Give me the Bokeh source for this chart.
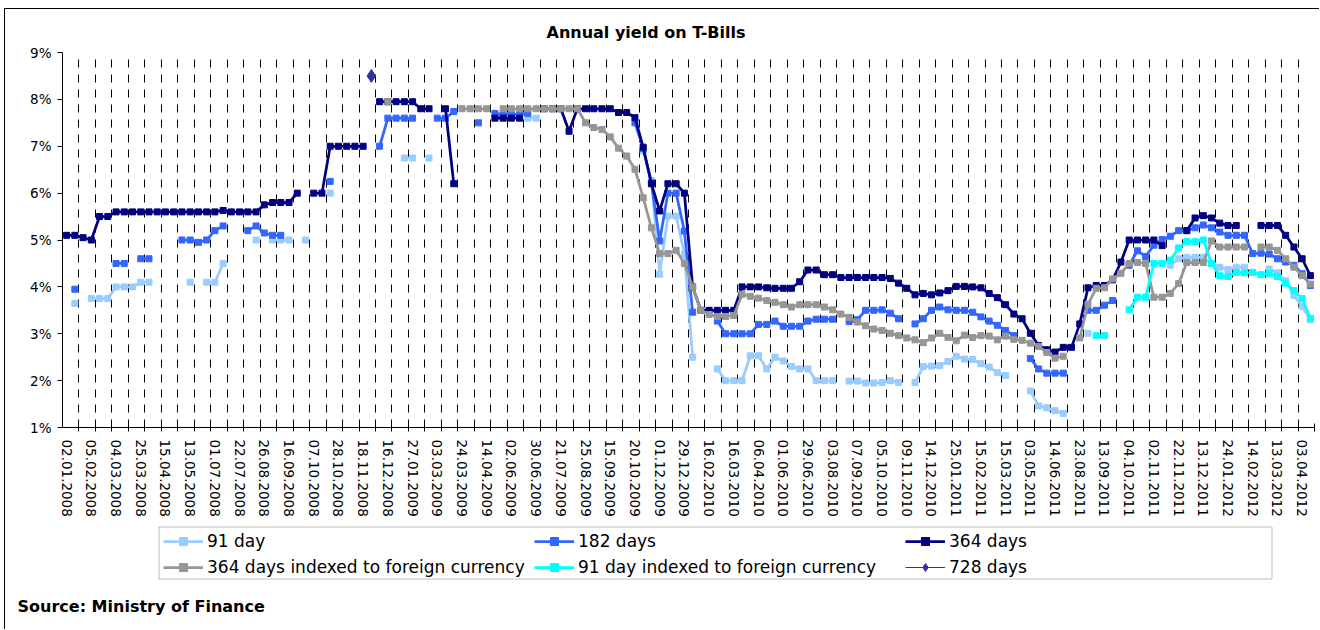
import math
from bokeh.plotting import figure
from bokeh.layouts import column
from bokeh.models import (Range1d, LinearAxis, FixedTicker, CustomJSTickFormatter,
                          Legend, LegendItem, Title, Label, ColumnDataSource, Grid,
                          BoxAnnotation)
from bokeh.embed import file_html
from bokeh.resources import INLINE

N_CAT = 152  # weekly auction dates, labelled every third one

tick_dates = [
    "02.01.2008", "05.02.2008", "04.03.2008", "25.03.2008", "15.04.2008", "13.05.2008",
    "01.07.2008", "22.07.2008", "26.08.2008", "16.09.2008", "07.10.2008", "28.10.2008",
    "18.11.2008", "16.12.2008", "27.01.2009", "03.03.2009", "24.03.2009", "14.04.2009",
    "02.06.2009", "30.06.2009", "21.07.2009", "25.08.2009", "15.09.2009", "20.10.2009",
    "01.12.2009", "29.12.2009", "16.02.2010", "16.03.2010", "06.04.2010", "01.06.2010",
    "29.06.2010", "03.08.2010", "07.09.2010", "05.10.2010", "09.11.2010", "14.12.2010",
    "25.01.2011", "15.02.2011", "15.03.2011", "03.05.2011", "14.06.2011", "23.08.2011",
    "13.09.2011", "04.10.2011", "02.11.2011", "22.11.2011", "13.12.2011", "24.01.2012",
    "14.02.2012", "13.03.2012", "03.04.2012",
]

n = None
day91 = [
    n, 3.65, n, 3.75, 3.75, 3.75, 4.0, 4.0, 4.0, 4.1,
    4.1, n, n, n, n, 4.1, n, 4.1, 4.1, 4.5,
    n, n, n, 5.0, n, 5.0, 5.0, 5.0, n, 5.0,
    n, n, 6.0, n, n, n, n, n, n, n,
    n, 6.75, 6.75, n, 6.75, n, n, n, n, n,
    n, n, n, n, n, n, 7.6, 7.6, n, n,
    n, n, n, n, n, n, n, n, n, n,
    6.9, 6.27, 4.27, 5.51, 5.51, 4.7, 2.5, n, n, 2.25,
    2.0, 2.0, 2.0, 2.53, 2.53, 2.25, 2.5, 2.42, 2.3, 2.25,
    2.25, 2.0, 2.0, 2.0, n, 1.99, 1.99, 1.95, 1.95, 1.96,
    2.0, 1.96, n, 1.96, 2.3, 2.31, 2.32, 2.41, 2.52, 2.46,
    2.45, 2.36, 2.29, 2.17, 2.11, n, n, 1.78, 1.46, 1.42,
    1.36, 1.3, n, n, 3.01, n, n, n, n, n,
    n, n, n, n, 4.46, 4.6, 4.63, 4.63, 4.63, 4.5,
    4.42, 4.37, 4.42, 4.42, n, n, 4.38, 4.3, 4.13, 3.82,
    3.58, 3.3,
]
day182 = [
    n, 3.95, n, n, n, n, 4.5, 4.5, n, 4.6,
    4.6, n, n, n, 5.0, 5.0, 4.95, 5.0, 5.2, 5.3,
    n, n, 5.2, 5.3, 5.15, 5.1, 5.1, n, n, n,
    n, n, 6.25, n, n, n, n, n, 7.0, 7.6,
    7.6, 7.6, 7.6, n, n, 7.6, 7.6, 7.74, n, n,
    7.5, n, 7.7, 7.68, 7.68, 7.68, 7.7, n, n, n,
    n, n, n, n, n, n, n, n, n, 7.5,
    6.95, 6.22, 4.98, 6.0, 6.0, 5.19, 3.46, n, n, 3.27,
    3.0, 3.0, 3.0, 3.0, 3.2, 3.2, 3.27, 3.16, 3.16, 3.16,
    3.27, 3.31, 3.31, 3.31, n, 3.26, 3.3, 3.5, 3.5, 3.51,
    3.44, 3.32, n, 3.21, 3.32, 3.5, 3.57, 3.51, 3.5, 3.5,
    3.46, 3.36, 3.27, 3.18, 3.07, 2.96, n, 2.47, 2.25, 2.16,
    2.16, 2.16, n, n, 3.5, 3.5, 3.61, 3.71, n, 4.46,
    4.77, 4.65, 4.89, 5.01, 5.08, 5.2, 5.2, 5.26, 5.32, 5.26,
    5.17, 5.1, 5.1, 5.1, 4.71, 4.72, 4.7, 4.6, 4.53, 4.46,
    4.28, 4.03,
]
day364 = [
    5.1, 5.1, 5.05, 5.0, 5.5, 5.5, 5.6, 5.6, 5.6, 5.6,
    5.6, 5.6, 5.6, 5.6, 5.6, 5.6, 5.6, 5.6, 5.6, 5.63,
    5.6, 5.6, 5.6, 5.6, 5.75, 5.8, 5.8, 5.8, 6.0, n,
    6.0, 6.0, 7.0, 7.0, 7.0, 7.0, 7.0, n, 7.95, 7.95,
    7.95, 7.95, 7.95, 7.8, 7.8, n, 7.8, 6.2, n, n,
    n, n, 7.6, 7.6, 7.6, 7.6, n, n, 7.8, 7.8,
    7.8, 7.32, 7.8, 7.8, 7.8, 7.8, 7.8, 7.72, 7.72, 7.61,
    6.98, 6.2, 5.62, 6.2, 6.2, 6.0, 4.0, 3.5, 3.5, 3.5,
    3.5, 3.5, 4.0, 4.0, 4.0, 3.98, 3.97, 3.97, 3.97, 4.11,
    4.36, 4.36, 4.26, 4.26, 4.2, 4.2, 4.2, 4.2, 4.2, 4.2,
    4.18, 4.08, 3.97, 3.83, 3.86, 3.83, 3.87, 3.92, 4.01, 4.01,
    4.0, 3.98, 3.86, 3.77, 3.62, 3.42, 3.32, 3.01, 2.75, 2.66,
    2.61, 2.71, 2.71, 3.21, 3.98, 4.03, 4.03, 4.15, 4.53, 5.0,
    5.0, 5.0, 5.0, 4.88, n, n, 5.2, 5.47, 5.52, 5.47,
    5.36, 5.31, 5.31, n, n, 5.31, 5.31, 5.31, 5.1, 4.85,
    4.6, 4.24,
]
day364_fx = [
    n, n, n, n, n, n, n, n, n, n,
    n, n, n, n, n, n, n, n, n, n,
    n, n, n, n, n, n, n, n, n, n,
    n, n, n, n, n, n, n, n, n, 7.95,
    n, n, n, n, n, n, n, n, 7.8, 7.8,
    7.8, 7.8, n, 7.8, 7.8, 7.8, 7.8, 7.8, 7.8, 7.8,
    7.8, 7.8, 7.8, 7.5, 7.4, 7.36, 7.2, 6.96, 6.79, 6.51,
    5.9, 5.26, 4.71, 4.71, 4.78, 4.5, 4.0, 3.5, 3.41, 3.37,
    3.37, 3.39, 3.84, 3.8, 3.76, 3.71, 3.67, 3.62, 3.57, 3.62,
    3.62, 3.62, 3.57, 3.51, 3.42, 3.35, 3.25, 3.17, 3.1, 3.07,
    3.01, 2.96, 2.91, 2.87, 2.81, 2.91, 3.01, 2.92, 2.85, 2.97,
    2.92, 2.96, 2.95, 2.87, 2.95, 2.88, 2.86, 2.8, 2.73, 2.6,
    2.48, 2.52, n, 2.91, 3.63, 3.97, 3.98, 4.17, 4.29, 4.5,
    4.52, 4.5, 3.78, 3.78, 3.86, 4.07, 4.52, 4.52, 4.52, 4.98,
    4.85, 4.85, 4.85, 4.85, n, 4.85, 4.85, 4.78, 4.6, 4.42,
    4.24, 4.06,
]
day91_fx = [n] * 125 + [
    2.96, 2.96, n, n, 3.51,
    3.78, 3.78, 4.5, 4.5, 4.57, 4.83, 4.97, 4.97, 5.0, 4.5,
    4.24, 4.22, 4.31, 4.3, 4.31, 4.26, 4.29, 4.22, 4.08, 3.92,
    3.75, 3.33,
]
day728 = [n] * 37 + [8.5] + [n] * 114

series_names = ["91 day", "182 days", "364 days",
                "364 days indexed to foreign currency",
                "91 day indexed to foreign currency", "728 days"]
series_values = [day91, day182, day364, day364_fx, day91_fx, day728]
series_colors = ["#99CCFF", "#3366FF", "#000080", "#969696", "#00FFFF", "#333399"]

FONT = "DejaVu Sans"
W = 1314

p = figure(width=W, height=515,
           x_range=Range1d(-0.5, N_CAT - 0.5), y_range=Range1d(1, 9),
           x_axis_type=None, output_backend="svg", toolbar_location=None,
           min_border_left=57, min_border_right=5, min_border_top=43, min_border_bottom=97,
           background_fill_color="white", border_fill_color="white")
p.outline_line_color = None
p.frame_align = False

# y axis
yax = p.yaxis[0]
yax.ticker = FixedTicker(ticks=list(range(1, 10)))
yax.major_label_overrides = {v: f"{v}%" for v in range(1, 10)}
yax.minor_tick_line_color = None
yax.major_tick_in = 0
yax.major_tick_out = 5
yax.major_label_standoff = 6
yax.axis_line_color = "black"
yax.major_tick_line_color = "black"
yax.major_label_text_font = FONT
yax.major_label_text_font_size = "13.5px"
yax.major_label_text_color = "black"
p.ygrid.visible = False

# category boundaries every two categories -> tick marks and dashed gridlines
boundaries = [k + 1.5 for k in range(0, N_CAT - 1, 2)]
label_pos = [3 * k for k in range(len(tick_dates))]

grid = Grid(dimension=0, ticker=FixedTicker(ticks=boundaries),
            grid_line_color="black", grid_line_dash="8 7", grid_line_width=1)
p.add_layout(grid)

ax_ticks = LinearAxis(ticker=FixedTicker(ticks=boundaries, minor_ticks=[]),
                      formatter=CustomJSTickFormatter(code="return ''"),
                      major_tick_in=4, major_tick_out=4,
                      major_label_text_font_size="1px", major_label_standoff=0,
                      axis_line_color="black", major_tick_line_color="black",
                      minor_tick_line_color=None)
p.add_layout(ax_ticks, "below")

ax_labels = LinearAxis(ticker=FixedTicker(ticks=label_pos, minor_ticks=[]),
                       major_label_overrides={pos: d for pos, d in zip(label_pos, tick_dates)},
                       major_label_orientation="vertical",
                       major_tick_in=0, major_tick_out=0, major_label_standoff=8,
                       axis_line_color=None, major_tick_line_color=None,
                       minor_tick_line_color=None,
                       major_label_text_font=FONT, major_label_text_font_size="13.5px",
                       major_label_text_color="black")
p.add_layout(ax_labels, "below")

title = Title(text="Annual yield on T-Bills", align="left", offset=484,
              vertical_align="top",
              text_font=FONT, text_font_size="16px", text_font_style="bold",
              text_color="black", standoff=18)
p.add_layout(title, "above")

# lower strip holding the legend and the source note
p2 = figure(width=W, height=105, x_range=Range1d(0, 1), y_range=Range1d(0, 1),
            x_axis_type=None, y_axis_type=None, output_backend="svg",
            toolbar_location=None, min_border=0,
            background_fill_color="white", border_fill_color="white")
p2.outline_line_color = None
p2.frame_align = False

xs = list(range(N_CAT))
items = []
for name, vals, col in zip(series_names, series_values, series_colors):
    ys = [math.nan if v is None else v for v in vals]
    src = ColumnDataSource(dict(x=xs, y=ys))
    key_src = ColumnDataSource(dict(x=[math.nan], y=[math.nan]))  # legend key only
    if name == "728 days":
        line_kw = dict(line_color=col, line_width=1)
        mark_kw = dict(marker="diamond", size=13, fill_color=col, line_color=col)
    else:
        line_kw = dict(line_color=col, line_width=2.75)
        mark_kw = dict(marker="square", size=6, fill_color=col, line_color=col)
    p.line("x", "y", source=src, **line_kw)
    p.scatter("x", "y", source=src, **mark_kw)
    lr = p2.line("x", "y", source=key_src, **line_kw)
    sr = p2.scatter("x", "y", source=key_src, **mark_kw)
    items.append(LegendItem(label=name, renderers=[lr, sr]))

# Excel-style legend: 3 equal-width columns, 2 rows, one box round them
col_x = [158, 529, 900]
for c, x0 in enumerate(col_x):
    leg = Legend(items=[items[c], items[c + 3]], orientation="vertical",
                 location=(x0, 52),
                 label_text_font=FONT, label_text_font_size="17px", label_text_color="black",
                 label_standoff=4, glyph_width=40, glyph_height=20, label_height=20,
                 spacing=6, padding=0, margin=0,
                 border_line_color=None, background_fill_alpha=0.0)
    p2.add_layout(leg, "center")

legend_box = BoxAnnotation(left=153.5, right=1266.5, bottom=50.5, top=102.5,
                           left_units="screen", right_units="screen",
                           bottom_units="screen", top_units="screen",
                           fill_alpha=0.0, line_color="#202020", line_width=1)
p2.add_layout(legend_box)

source_note = Label(text="Source: Ministry of Finance", x=12, y=23,
                    x_units="screen", y_units="screen",
                    text_align="left", text_baseline="middle",
                    text_font=FONT, text_font_size="16px", text_font_style="bold",
                    text_color="black")
p2.add_layout(source_note)

page = column(p, p2, spacing=0)
page.styles = {"margin-left": "4px", "margin-top": "8px",
               "border-left": "1px solid #000000", "border-top": "1px solid #000000"}

open("out.html", "w").write(file_html(page, INLINE))
